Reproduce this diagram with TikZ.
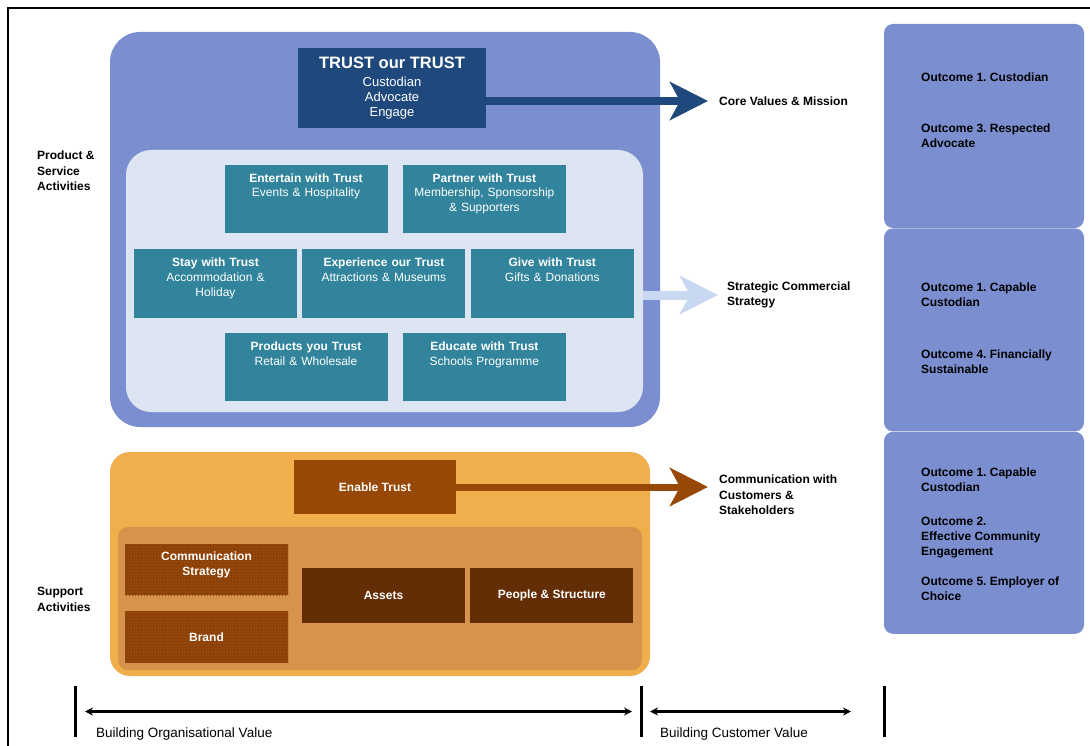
\documentclass[tikz,border=0pt]{standalone}
\usepackage{fontspec}
\setmainfont{Liberation Sans}
\usetikzlibrary{positioning, arrows.meta, patterns}

\definecolor{bgblue}{RGB}{123,143,208}
\definecolor{paleblue}{RGB}{221,228,242}
\definecolor{navy}{RGB}{31,73,125}
\definecolor{trustteal}{RGB}{49,132,155}
\definecolor{skyarrow}{RGB}{200,216,240}
\definecolor{orangeout}{RGB}{240,174,76}
\definecolor{orangein}{RGB}{215,146,75}
\definecolor{rust}{RGB}{151,72,6}
\definecolor{rusttex}{RGB}{138,64,9}
\definecolor{chestnut}{RGB}{99,45,5}

\tikzset{
  panel/.style={rounded corners=#1, inner sep=0pt},
  tealbox/.style={fill=trustteal, text=white, minimum width=163pt, minimum height=68pt,
    inner sep=0pt, text width=160pt, align=center, text height=17.5pt, text depth=50.5pt,
    font=\fontsize{12}{14.5}\selectfont},
  rustbox/.style={fill=rust, text=white, inner sep=0pt, align=center,
    minimum width=163pt, minimum height=51pt, font=\bfseries\fontsize{12}{14.5}\selectfont},
  textured/.style={rustbox, postaction={pattern=grid, pattern color=rusttex}},
  chestbox/.style={rustbox, fill=chestnut, minimum height=55pt},
  outcome/.style={anchor=west, inner sep=0pt, align=left, font=\bfseries\fontsize{12}{15}\selectfont},
  sidetext/.style={anchor=west, inner sep=0pt, align=left, font=\bfseries\fontsize{12}{15.5}\selectfont},
  bigarrow/.style={line width=#1, -{Stealth[length=38pt,width=38pt,inset=10pt]}},
  bar/.style={line width=3pt},
  span/.style={line width=2.4pt, {Stealth[length=8pt,width=8pt]}-{Stealth[length=8pt,width=8pt]}}
}

\begin{document}
\frenchspacing
\begin{tikzpicture}[x=1pt,y=-1pt]
  \useasboundingbox (0,0) rectangle (1090,746);
  \draw[line width=1.6pt] (8,746) -- (8,8) -- (1090,8);

  % Panels
  \node[panel=30pt, fill=bgblue, minimum width=550pt, minimum height=395pt] (mainpanel) at (385,229.5) {};
  \node[panel=25pt, fill=paleblue, minimum width=517pt, minimum height=262pt] (innerpanel) at (384.5,281) {};
  \node[panel=20pt, fill=orangeout, minimum width=540pt, minimum height=224pt] (orangepanel) at (380,564) {};
  \node[panel=10pt, fill=orangein, minimum width=524pt, minimum height=143pt] (supportpanel) at (380,598.5) {};

  % Outcome column
  \node[panel=9pt, fill=bgblue, minimum width=200pt, minimum height=204pt] (colA) at (984,126) {};
  \node[panel=9pt, fill=bgblue, minimum width=200pt, minimum height=203pt] (colB) [below=0pt of colA] {};
  \node[panel=9pt, fill=bgblue, minimum width=200pt, minimum height=202pt] (colC) [below=0pt of colB] {};

  % Nodes
  \node[fill=navy, text=white, minimum width=188pt, minimum height=80pt, inner sep=0pt, align=center,
    font=\fontsize{13}{15}\selectfont] (trust) at (392,88)
    {{\fontsize{16.5}{18}\selectfont\bfseries TRUST our TRUST}\\[3pt]Custodian\\Advocate\\Engage};

  \node[tealbox] (entertain) at (306,199) {\textbf{Entertain with Trust}\\Events \& Hospitality};
  \node[tealbox] (partner) [right=15pt of entertain] {\textbf{Partner with Trust}\\Membership, Sponsorship\\\& Supporters};
  \node[tealbox] (stay) at (215.5,283.5) {\textbf{Stay with Trust}\\Accommodation \&\\Holiday};
  \node[tealbox] (experience) [right=5pt of stay] {\textbf{Experience our Trust}\\Attractions \& Museums};
  \node[tealbox] (give) [right=5pt of experience] {\textbf{Give with Trust}\\Gifts \& Donations};
  \node[tealbox] (products) [below=100pt of entertain] {\textbf{Products you Trust}\\Retail \& Wholesale};
  \node[tealbox] (educate) [below=100pt of partner] {\textbf{Educate with Trust}\\Schools Programme};

  \node[rustbox, minimum width=162pt, minimum height=54pt] (enable) at (375,487) {Enable Trust};
  \node[textured, text depth=12pt] (commstrat) at (206.5,569.5) {Communication\\Strategy};
  \node[textured] (brand) [below=16pt of commstrat] {Brand};
  \node[chestbox] (assets) at (383.5,595.5) {Assets};
  \node[chestbox] (people) [right=5pt of assets] {People \& Structure};

  % Labels
  \node[sidetext] (core) at (719,101) {Core Values \& Mission};
  \node[sidetext] (commercial) at (727,295) {Strategic Commercial\\Strategy};
  \node[sidetext] (commcust) at (719,495) {Communication with\\Customers \&\\Stakeholders};
  \node[sidetext] (product) at (37,171) {Product \&\\Service\\Activities};
  \node[sidetext] (support) at (37,599.5) {Support\\Activities};

  \node[outcome] (custodian) at (921,77) {Outcome 1. Custodian};
  \node[outcome] (respected) at (921,135.5) {Outcome 3. Respected\\Advocate};
  \node[outcome] (capableA) at (921,295) {Outcome 1. Capable\\Custodian};
  \node[outcome] (financial) at (921,362) {Outcome 4. Financially\\Sustainable};
  \node[outcome] (capableB) at (921,480) {Outcome 1. Capable\\Custodian};
  \node[outcome] (community) at (921,537.5) {Outcome 2.\\Effective Community\\Engagement};
  \node[outcome] (employer) at (921,589) {Outcome 5. Employer of\\Choice};

  % Arrows
  \draw[bigarrow=8pt, navy] (trust.east |- core.west) -- ([xshift=-11pt]core.west);
  \draw[bigarrow=9pt, skyarrow] (innerpanel.east |- commercial.west) -- ([xshift=-9pt]commercial.west);
  \draw[bigarrow=7pt, rust, shorten >=11pt] (enable.east) -- (enable.east -| commcust.west);

  % Value bars
  \coordinate (barA) at (75,711.5);
  \coordinate (barB) at (641,711.5);
  \coordinate (barC) at (884,711.5);
  \foreach \b in {barA,barB,barC}
    \draw[bar] ([yshift=25.5pt]\b) -- ([yshift=-25.5pt]\b);
  \draw[span] ([xshift=10pt]barA) -- ([xshift=-9pt]barB);
  \draw[span] ([xshift=9pt]barB) -- ([xshift=-33pt]barC);
  \node[anchor=west, inner sep=0pt, font=\fontsize{13.5}{15}\selectfont] (orgvalue) at (96,734) {Building Organisational Value};
  \node[anchor=west, inner sep=0pt, font=\fontsize{13.5}{15}\selectfont] (custvalue) at (660,734) {Building Customer Value};
\end{tikzpicture}
\end{document}
